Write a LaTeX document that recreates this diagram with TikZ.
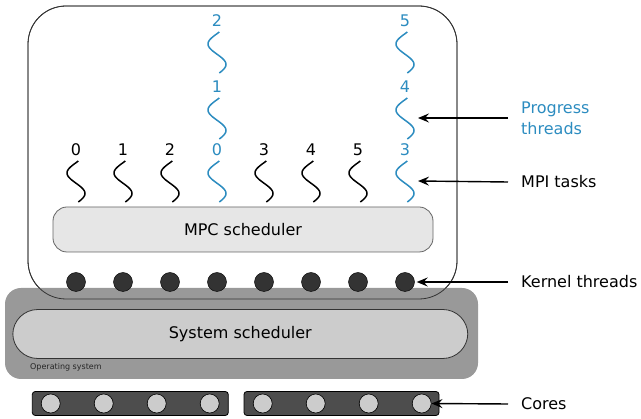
\documentclass[tikz,border=0pt]{standalone}
\usepackage{fontspec}
\setmainfont{DejaVu Sans}
\usepackage{tikz}
\usetikzlibrary{arrows.meta, calc}
\usepackage{xcolor}

\definecolor{threadblue}{RGB}{44,140,192}
\definecolor{osgray}{HTML}{999999}
\definecolor{schedgray}{HTML}{CCCCCC}
\definecolor{mpcgray}{HTML}{E6E6E6}
\definecolor{kernelgray}{HTML}{333333}
\definecolor{coregray}{HTML}{4D4D4D}

\newcommand{\bigfont}{\fontsize{16}{21}\selectfont}
\newcommand{\smallfont}{\fontsize{8}{10}\selectfont}

% one thread: name, x, top of the wave, colour, number
\newcommand{\thrd}[5]{%
    \node[text=#4, font=\bigfont, inner sep=0pt] (#1) at (#2,#3-11) {#5};
    \draw[#4, line width=1.5pt]
        plot[domain=0:1, samples=40, smooth] ({#2-9*sin(360*\x-15)}, {#3+41*\x});
}

\tikzset{
    kernel/.style={circle, fill=kernelgray, draw=black, line width=0.4pt, minimum size=19pt, inner sep=0pt},
    core/.style={circle, fill=schedgray, draw=black, line width=0.6pt, minimum size=19pt, inner sep=0pt},
    corebar/.style={rectangle, rounded corners=3pt, fill=coregray, draw=black, line width=0.8pt,
        minimum height=24pt, inner sep=0pt},
    lbl/.style={anchor=west, inner xsep=0pt, font=\bigfont, align=left},
    arr/.style={line width=1.4pt, -{Stealth[length=11pt, width=9pt, inset=4pt]}}
}

\begin{document}
\begin{tikzpicture}[x=1pt, y=-1pt]
    \useasboundingbox (0,0) rectangle (641,419);

    % MPC process
    \draw[fill=white, draw=kernelgray, line width=0.8pt, rounded corners=38pt]
        (28,6) rectangle (457,299);
    \node[rectangle, rounded corners=14pt, fill=mpcgray, draw=black!60, line width=0.8pt,
        minimum width=380pt, minimum height=45pt, font=\bigfont] (mpc) at (243,229.5) {MPC scheduler};

    % MPI tasks
    \thrd{m0}{76}{161}{black}{0}
    \thrd{m1}{123}{161}{black}{1}
    \thrd{m2}{170}{161}{black}{2}
    \thrd{m3}{264}{161}{black}{3}
    \thrd{m4}{311}{161}{black}{4}
    \thrd{m5}{358}{161}{black}{5}

    % progress threads
    \thrd{p0}{217}{161}{threadblue}{0}
    \thrd{p1}{217}{98}{threadblue}{1}
    \thrd{p2}{217}{32}{threadblue}{2}
    \thrd{p3}{405}{161}{threadblue}{3}
    \thrd{p4}{405}{98}{threadblue}{4}
    \thrd{p5}{405}{32}{threadblue}{5}

    \path (418,118) coordinate (PT);
    \path (418,181) coordinate (MT);

    % operating system
    \fill[osgray, rounded corners=16pt] (5,288) rectangle (478,379);
    \draw[draw=kernelgray, line width=0.8pt, rounded corners=38pt] (28,6) rectangle (457,299);
    \node[rectangle, rounded corners=25pt, fill=schedgray, draw=kernelgray, line width=0.8pt,
        minimum width=455pt, minimum height=49pt, font=\bigfont] (sys) at (240.3,334) {System scheduler};
    \node[anchor=west, inner sep=0pt, font=\smallfont, text=black!85] (os) at (30,367) {Operating system};

    % kernel threads
    \foreach \i in {1,...,8}
        \node[kernel] (k\i) at ({29+47*\i},282) {};

    % cores
    \node[corebar, minimum width=196pt] (bar1) at (130.3,403.5) {};
    \node[corebar, minimum width=195pt] (bar2) at (341.5,403.5) {};
    \foreach \i in {1,...,8}
        \node[core] (c\i) at ({-2.3+53*\i},403.5) {};

    % legend
    \node[lbl, text=threadblue] (prog) at (521,118) {Progress\\threads};
    \node[lbl] (mpi) at (521,182) {MPI tasks};
    \node[lbl] (kern) at (521,282) {Kernel threads};
    \node[lbl] (cores) at (521,404) {Cores};

    \draw[arr] ([xshift=-13pt]prog.west) -- (PT);
    \draw[arr] ([xshift=-13pt]mpi.west) -- (MT);
    \draw[arr, shorten >=2pt] ([xshift=-13pt]kern.west) -- (k8.east);
    \draw[arr] ([xshift=-13pt]cores.west) -- (c8.east);
\end{tikzpicture}
\end{document}
